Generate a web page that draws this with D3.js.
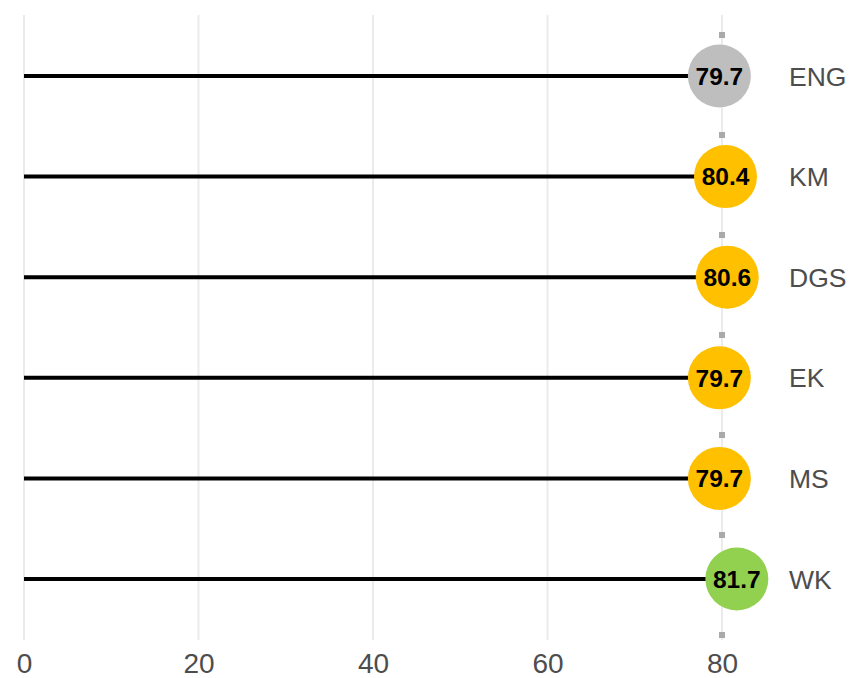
<!DOCTYPE html>
<html><head><meta charset="utf-8">
<script src="https://cdn.jsdelivr.net/npm/d3@7"></script>
<style>body{margin:0;background:#fff}svg{display:block}text{font-family:"Liberation Sans",Arial,sans-serif}</style>
</head><body><div id="chart"></div>
<script>
const categories = ["ENG","KM","DGS","EK","MS","WK"];
const values = [79.7,80.4,80.6,79.7,79.7,81.7];
const colors = ["#bebebe","#ffc000","#ffc000","#ffc000","#ffc000","#92d050"];
const tickValues = [0,20,40,60,80];
const refValue = 80;

const W=856,H=678;
const svg=d3.select("#chart").append("svg").attr("width",W).attr("height",H);
const x=d3.scaleLinear().domain([0,80]).range([24,722]);
const y=d3.scalePoint().domain(categories).range([76,579]);
const panelTop=15,panelBottom=640;

// grid
svg.append("g").selectAll("line").data(tickValues).join("line")
  .attr("x1",d=>x(d)).attr("x2",d=>x(d)).attr("y1",panelTop).attr("y2",panelBottom)
  .attr("stroke","#ebebeb").attr("stroke-width",2);

// axis labels
const ax=svg.append("g").attr("transform",`translate(0,${panelBottom})`)
  .call(d3.axisBottom(x).tickValues(tickValues).tickSize(0).tickPadding(13).tickFormat(d3.format("d")));
ax.select(".domain").remove();
ax.selectAll("text").attr("font-size",28).attr("fill","#4d4d4d").attr("font-family","Liberation Sans, Arial, sans-serif");

// segments
svg.append("g").selectAll("line").data(categories).join("line")
  .attr("x1",x(0)).attr("x2",(d,i)=>x(values[i])).attr("y1",d=>y(d)).attr("y2",d=>y(d))
  .attr("stroke","#000").attr("stroke-width",4);

// reference dashed line
svg.append("line").attr("x1",x(refValue)).attr("x2",x(refValue)).attr("y1",32).attr("y2",panelBottom)
  .attr("stroke","#aaaaaa").attr("stroke-width",6).attr("stroke-dasharray","6 94");

// circles
svg.append("g").selectAll("circle").data(categories).join("circle")
  .attr("cx",(d,i)=>x(values[i])).attr("cy",d=>y(d)).attr("r",31.5)
  .attr("fill",(d,i)=>colors[i]);

// value labels
svg.append("g").selectAll("text").data(categories).join("text")
  .attr("x",(d,i)=>x(values[i])).attr("y",d=>y(d)).attr("dy","0.36em")
  .attr("text-anchor","middle").attr("font-weight","bold").attr("font-size",24.5).attr("fill","#000")
  .text((d,i)=>values[i].toFixed(1));

// category labels
svg.append("g").selectAll("text").data(categories).join("text")
  .attr("x",789).attr("y",d=>y(d)).attr("dy","0.36em")
  .attr("font-size",26.5).attr("fill","#4d4d4d").text(d=>d);
</script></body></html>
